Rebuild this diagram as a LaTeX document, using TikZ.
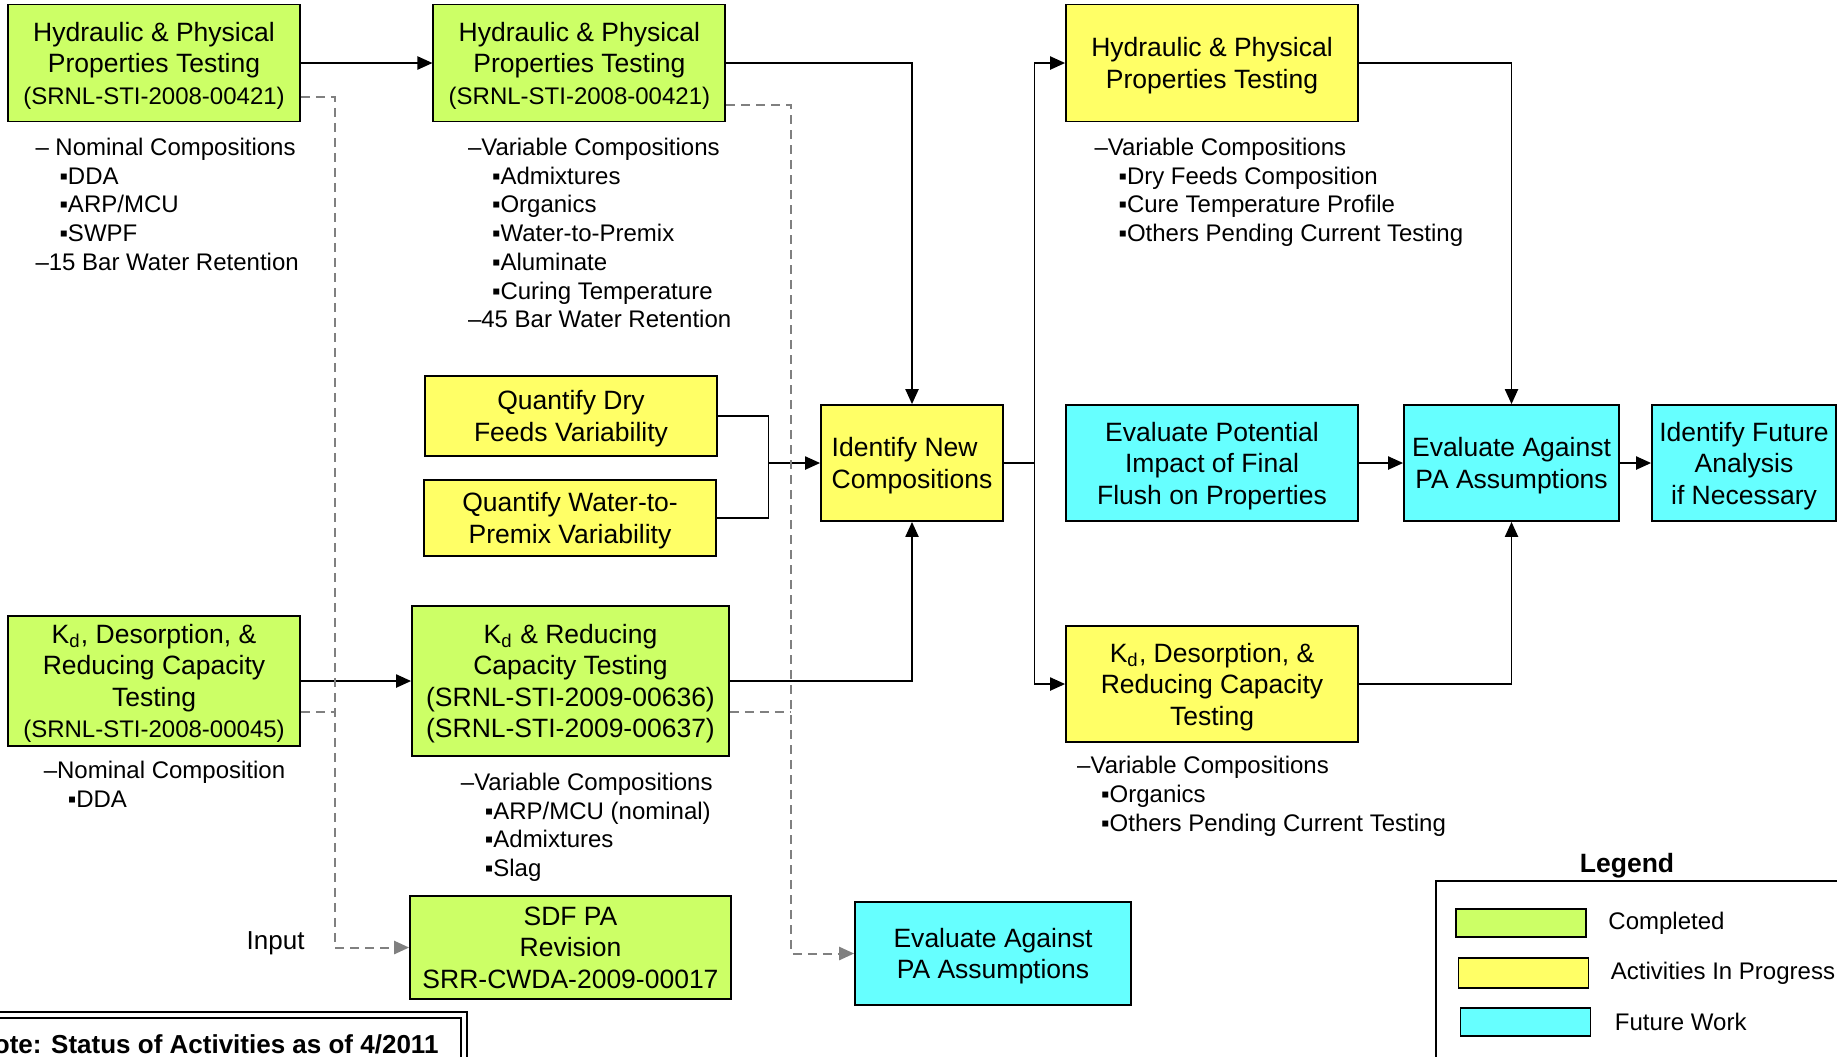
\documentclass[tikz,border=0pt]{standalone}
\usepackage{fontspec}
\setmainfont{Liberation Sans}
\usepackage{tikz}
\usetikzlibrary{arrows.meta, positioning}
\usepackage{xcolor}

\definecolor{donegreen}{HTML}{CCFF66}
\definecolor{progyellow}{HTML}{FFFF66}
\definecolor{futurecyan}{HTML}{66FFFF}
\definecolor{feedgray}{HTML}{808080}

\newcommand{\idfont}{\fontsize{9.6}{12.6}\selectfont}
\newcommand{\itm}[1]{\hspace*{1em}▪#1}

\begin{document}
\begin{tikzpicture}[x=0.4pt, y=-0.4pt,
    dims/.style 2 args={minimum width=#1, minimum height=#2},
    box/.style={draw, line width=0.75pt, align=center, inner sep=0pt,
        text depth=0pt, font=\fontsize{10.6}{12.6}\selectfont},
    done/.style={box, fill=donegreen},
    prog/.style={box, fill=progyellow},
    future/.style={box, fill=futurecyan},
    notes/.style={anchor=north west, align=left, inner sep=0pt,
        font=\fontsize{9.6}{11.5}\selectfont},
    wire/.style={line width=0.6pt},
    link/.style={wire, -{Triangle[length=6pt, width=5.3pt]}},
    feed/.style={feedgray, line width=0.8pt, dash pattern=on 3.6pt off 2.4pt},
    feedlink/.style={feed, -{Triangle[length=6pt, width=5.3pt]}},
    legtext/.style={font=\fontsize{9.6}{11.5}\selectfont, inner sep=0pt},
]

    % Page frame
    \path[use as bounding box, clip] (0,0) rectangle (1837,1056);

    % Completed
    \node[done, dims={116.8pt}{46.8pt}] (h1) at (154, 63)
        {Hydraulic \& Physical\\Properties Testing\\{\idfont (SRNL-STI-2008-00421)}};
    \node[done, dims={116.8pt}{46.8pt}] (h2) at (579.4, 63)
        {Hydraulic \& Physical\\Properties Testing\\{\idfont (SRNL-STI-2008-00421)}};
    \node[done, dims={116.8pt}{52pt}] (kd1) at (154, 681)
        {K\textsubscript{d}, Desorption, \&\\Reducing Capacity\\Testing\\{\idfont (SRNL-STI-2008-00045)}};
    \node[done, dims={126.8pt}{60pt}] (kd2) at (570.5, 681)
        {K\textsubscript{d} \& Reducing\\Capacity Testing\\(SRNL-STI-2009-00636)\\(SRNL-STI-2009-00637)};
    \node[done, dims={128.4pt}{41.2pt}] (sdf) at (570.5, 947.5)
        {SDF PA\\Revision\\SRR-CWDA-2009-00017};

    % In progress
    \node[prog, dims={116.8pt}{46.8pt}] (h3) at (1212, 63)
        {Hydraulic \& Physical\\Properties Testing};
    \node[prog, dims={116.8pt}{32pt}] (qdry) at (571, 416)
        {Quantify Dry\\Feeds Variability};
    \node[prog, dims={116.8pt}{30.4pt}] (qwat) at (570, 518)
        {Quantify Water-to-\\Premix Variability};
    \node[prog, dims={72.8pt}{46.4pt}, align=left] (idnew) at (912, 463)
        {Identify New\\Compositions};
    \node[prog, dims={116.8pt}{46.4pt}] (kd3) at (1212, 684)
        {K\textsubscript{d}, Desorption, \&\\Reducing Capacity\\Testing};

    % Future work
    \node[future, dims={116.8pt}{46.4pt}] (evpot) at (1212, 463)
        {Evaluate Potential\\Impact of Final\\Flush on Properties};
    \node[future, dims={86pt}{46.4pt}] (evpa) at (1511.5, 463)
        {Evaluate Against\\PA Assumptions};
    \node[future, dims={73.6pt}{46.4pt}] (idfut) at (1744, 463)
        {Identify Future\\Analysis\\if Necessary};
    \node[future, dims={110.4pt}{41.2pt}] (evpa2) at (993, 953.5)
        {Evaluate Against\\PA Assumptions};

    % Test matrices
    \node[notes] (h1notes) at (35, 137.5)
        {– Nominal Compositions\\\itm{DDA}\\\itm{ARP/MCU}\\\itm{SWPF}\\–15 Bar Water Retention};
    \node[notes] (h2notes) at (467.5, 137.5)
        {–Variable Compositions\\\itm{Admixtures}\\\itm{Organics}\\\itm{Water-to-Premix}\\\itm{Aluminate}\\\itm{Curing Temperature}\\–45 Bar Water Retention};
    \node[notes] (h3notes) at (1094, 137.5)
        {–Variable Compositions\\\itm{Dry Feeds Composition}\\\itm{Cure Temperature Profile}\\\itm{Others Pending Current Testing}};
    \node[notes] (kd1notes) at (43.3, 760.7)
        {–Nominal Composition\\\itm{DDA}};
    \node[notes] (kd2notes) at (460.4, 772.5)
        {–Variable Compositions\\\itm{ARP/MCU (nominal)}\\\itm{Admixtures}\\\itm{Slag}};
    \node[notes] (kd3notes) at (1076.7, 756)
        {–Variable Compositions\\\itm{Organics}\\\itm{Others Pending Current Testing}};

    % Solid flow
    \draw[link] (h1) -- (h2);
    \draw[link] (h2.east) -| (idnew.north);
    \coordinate (qjoin) at (768.6, 463);
    \draw[wire] (qdry.east) -| (qjoin) |- (qwat.east);
    \draw[link] (qjoin) -- (idnew.west);
    \draw[link] (kd1) -- (kd2);
    \draw[link] (kd2.east) -| (idnew.south);
    \coordinate (split) at (1034.5, 463);
    \draw[wire] (idnew.east) -- (split);
    \draw[link] (split) |- (h3.west);
    \draw[link] (split) |- (kd3.west);
    \draw[link] (h3.east) -| (evpa.north);
    \draw[link] (evpot) -- (evpa);
    \draw[link] (kd3.east) -| (evpa.south);
    \draw[link] (evpa) -- (idfut);

    % Inputs to PA
    \coordinate (ina) at (335, 947.5);
    \coordinate (h1out) at ([shift={(0,34)}]h1.east);
    \coordinate (kd1out) at ([shift={(0,31)}]kd1.east);
    \draw[feedlink] (h1out) -| (ina) -- (sdf.west);
    \draw[feed] (kd1out) -- (kd1out -| ina);
    \coordinate (inb) at (791, 953.5);
    \coordinate (h2out) at ([shift={(0,42)}]h2.east);
    \coordinate (kd2out) at ([shift={(0,31)}]kd2.east);
    \draw[feedlink] (h2out) -| (inb) -- (evpa2.west);
    \draw[feed] (kd2out) -- (kd2out -| inb);
    \node[anchor=base east, inner sep=0pt, font=\fontsize{10.4}{12}\selectfont]
        (input) at (305, 949.5) {Input};

    % Legend
    \node[inner sep=0pt, font=\bfseries\fontsize{10.6}{12}\selectfont] (legtitle) at (1627, 866) {Legend};
    \draw[line width=0.8pt] (1436, 1070) |- (1860, 881);
    \node[done, dims={52pt}{11.2pt}] (swdone) at (1521, 923) {};
    \node[legtext, right=8.4pt of swdone] (lbdone) {Completed};
    \node[prog, dims={52pt}{12pt}] (swprog) at (1523.5, 973) {};
    \node[legtext, right=8.4pt of swprog] (lbprog) {Activities In Progress};
    \node[future, dims={52pt}{11.2pt}] (swfut) at (1525.5, 1022) {};
    \node[legtext, right=9.2pt of swfut] (lbfut) {Future Work};

    % Status note
    \draw[line width=0.8pt] (-20, 1012) -| (467, 1080);
    \draw[line width=0.8pt] (-20, 1018) -| (461, 1080);
    \node[anchor=base east, inner sep=0pt, font=\bfseries\fontsize{10.4}{12}\selectfont]
        (note) at (439, 1053) {Note: Status of Activities as of 4/2011};

\end{tikzpicture}
\end{document}
